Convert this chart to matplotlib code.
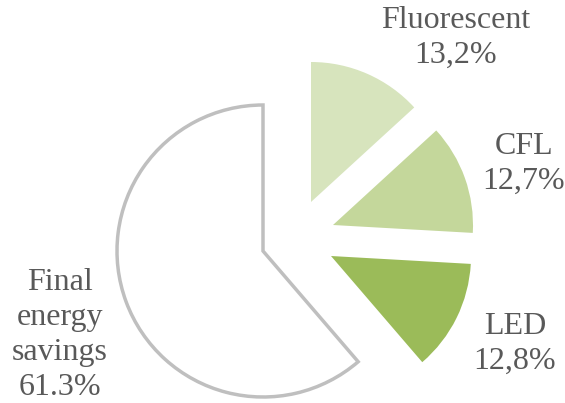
import matplotlib.pyplot as plt

# Lighting technologies share of savings (%)
categories = ["Fluorescent", "CFL", "LED", "Final\nenergy\nsavings"]
shares = [13.2, 12.7, 12.8, 61.3]
value_labels = ["13,2%", "12,7%", "12,8%", "61.3%"]

colors = ["#D7E4BD", "#C4D79B", "#9BBB59", "#FFFFFF"]
# pixel shifts of exploded slices and their radius
shifts = [(48, 49), (70, 26), (68, -5), (0, 0)]
radii = [140, 140, 140, 146]
label_pos = [(456, 38), (524, 164), (515, 344), (60, 335)]

plt.rcParams["font.family"] = ["Liberation Serif", "DejaVu Serif"]

fig = plt.figure(figsize=(5.65, 4.03), dpi=100)
ax = fig.add_axes([0, 0, 1, 1])

cx, cy = 263, 403 - 251
wedges, _ = ax.pie(shares, colors=colors, startangle=90, counterclock=False,
                   center=(cx, cy), radius=146, frame=True)
ax.set_xlim(0, 565)
ax.set_ylim(0, 403)
ax.axis("off")

for w, (dx, dy), r in zip(wedges, shifts, radii):
    w.set_center((cx + dx, cy + dy))
    w.set_radius(r)
    w.set_edgecolor("none")
wedges[-1].set_edgecolor("#BFBFBF")
wedges[-1].set_linewidth(2.5)
wedges[-1].set_joinstyle("miter")

for name, val, (x, y) in zip(categories, value_labels, label_pos):
    ax.text(x, 403 - y, f"{name}\n{val}", ha="center", va="center",
            fontsize=23, color="#595959", linespacing=1.27)

fig.savefig("out.png", dpi=100)
